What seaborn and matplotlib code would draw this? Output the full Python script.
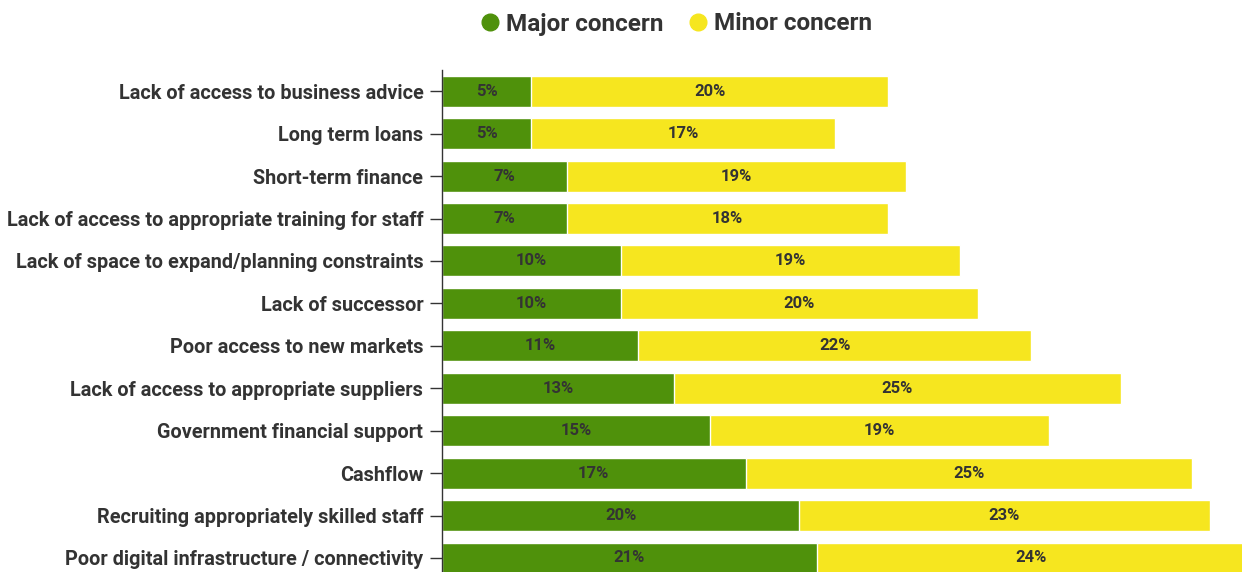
import matplotlib
matplotlib.use("Agg")
import matplotlib.pyplot as plt
from matplotlib.lines import Line2D
import seaborn as sns
import pandas as pd

# ---- Data ----
categories = [
    "Lack of access to business advice",
    "Long term loans",
    "Short-term finance",
    "Lack of access to appropriate training for staff",
    "Lack of space to expand/planning constraints",
    "Lack of successor",
    "Poor access to new markets",
    "Lack of access to appropriate suppliers",
    "Government financial support",
    "Cashflow",
    "Recruiting appropriately skilled staff",
    "Poor digital infrastructure / connectivity",
]
major = [5, 5, 7, 7, 10, 10, 11, 13, 15, 17, 20, 21]
minor = [20, 17, 19, 18, 19, 20, 22, 25, 19, 25, 23, 24]

GREEN = "#4f910b"
YELLOW = "#f6e61f"
TEXT = "#333333"

sns.set_theme(style="white")
plt.rcParams["font.family"] = ["Roboto", "DejaVu Sans"]

df = pd.DataFrame({"category": categories, "major": major, "minor": minor})
df["total"] = df["major"] + df["minor"]

fig = plt.figure(figsize=(12.42, 5.72), dpi=100)
ax = fig.add_axes([442 / 1242, 0, 800 / 1242, 502 / 572])

# stacked: total in yellow first, then major in green over it
sns.barplot(data=df, y="category", x="total", color=YELLOW, orient="h",
            width=0.73, saturation=1, ax=ax)
sns.barplot(data=df, y="category", x="major", color=GREEN, orient="h",
            width=0.73, saturation=1, ax=ax)

for i, (a, b) in enumerate(zip(major, minor)):
    ax.text(a / 2, i, f"{a}%", ha="center", va="center", fontsize=12,
            fontweight="bold", color=TEXT)
    ax.text(a + b / 2, i, f"{b}%", ha="center", va="center", fontsize=12,
            fontweight="bold", color=TEXT)

ax.set_xlim(0, 44.8)
ax.set_ylim(11.33, -0.5)
ax.set_xlabel("")
ax.set_ylabel("")
ax.set_xticks([])
for s in ["top", "right", "bottom"]:
    ax.spines[s].set_visible(False)
ax.spines["left"].set_color("#333333")
ax.spines["left"].set_linewidth(1)
ax.tick_params(axis="y", which="both", left=True, length=8.5, width=1,
               color="#333333", pad=5, labelsize=14.3, labelcolor=TEXT)
for lbl in ax.get_yticklabels():
    lbl.set_fontweight("bold")

handles = [
    Line2D([], [], marker="o", linestyle="", markersize=12, color=GREEN, label="Major concern"),
    Line2D([], [], marker="o", linestyle="", markersize=12, color=YELLOW, label="Minor concern"),
]
leg = fig.legend(handles=handles, loc="center", bbox_to_anchor=(675 / 1242, 1 - 24 / 572),
                 ncol=2, frameon=False, handlelength=1.0, handletextpad=0.15,
                 columnspacing=0.9, prop={"weight": "bold", "size": 17.5})
for t in leg.get_texts():
    t.set_color(TEXT)

fig.savefig("out.png", dpi=100)
